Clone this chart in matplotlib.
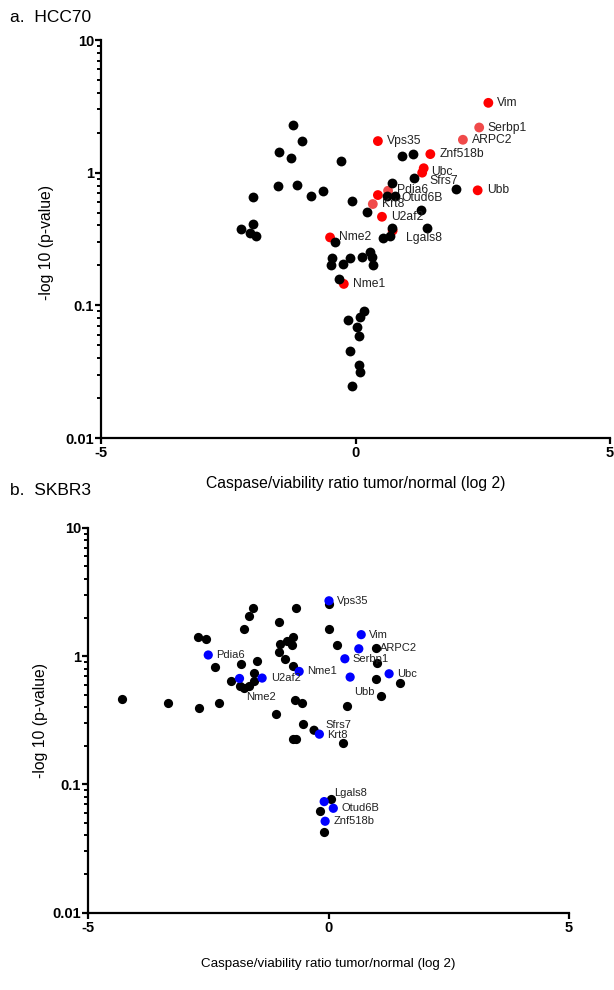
import matplotlib
matplotlib.use("Agg")
import matplotlib.pyplot as plt
from matplotlib.ticker import FixedLocator, FixedFormatter, LogLocator, NullFormatter

plt.rcParams['font.family'] = ['Liberation Sans', 'DejaVu Sans']
plt.rcParams['axes.unicode_minus'] = False

# ---- a. HCC70 : unlabelled genes
hcc_x = [-1.23, -1.06, -1.50, -1.27, -1.53, -1.15, -0.88, -2.01, -2.01, -2.24,
         -2.07, -1.96, -0.63, -0.29, 0.91, 1.12, 1.14, 0.71, 0.61, 0.78,
         1.97, -0.06, 0.22, 1.28, 1.40, 0.71, 0.55, 0.68, -0.41, -0.46,
         -0.49, -0.24, -0.10, 0.13, 0.29, 0.32, 0.34, -0.32, 0.17, 0.08,
         -0.15, 0.03, 0.06, -0.11, 0.06, 0.08, -0.06]
hcc_p = [2.27, 1.74, 1.43, 1.30, 0.80, 0.81, 0.67, 0.65, 0.41, 0.376,
         0.351, 0.335, 0.727, 1.22, 1.33, 1.38, 0.906, 0.839, 0.667, 0.667,
         0.752, 0.611, 0.505, 0.520, 0.385, 0.380, 0.321, 0.333, 0.301, 0.229,
         0.201, 0.204, 0.228, 0.230, 0.251, 0.231, 0.203, 0.158, 0.091, 0.081,
         0.078, 0.069, 0.059, 0.045, 0.0355, 0.0316, 0.0247]

# ---- a. HCC70 : labelled genes
hcc_genes = ['Vim', 'Serbp1', 'ARPC2', 'Vps35', 'Znf518b', 'Ubc', 'Sfrs7', 'Ubb',
             'Pdia6', 'Otud6B', 'Krt8', 'U2af2', 'Lgals8', 'Nme2', 'Nme1']
hcc_gx = [2.61, 2.43, 2.11, 0.44, 1.47, 1.34, 1.31, 2.40,
          0.64, 0.44, 0.34, 0.52, 0.73, -0.50, -0.23]
hcc_gp = [3.36, 2.19, 1.77, 1.73, 1.38, 1.08, 1.00, 0.736,
          0.731, 0.678, 0.580, 0.465, 0.366, 0.325, 0.145]
hcc_light = ['Serbp1', 'ARPC2', 'Pdia6', 'Krt8']

# ---- b. SKBR3 : unlabelled genes
sk_x = [-4.29, -3.33, -2.69, -2.28, -2.72, -2.55, -2.37, -1.75, -1.65, -1.57,
        -1.82, -1.49, -1.55, -2.03, -1.85, -1.75, -1.65, -1.54, -1.10, -1.02,
        -0.67, -0.73, -0.86, -1.00, -1.03, -0.90, -0.76, -0.74, -0.69, -0.56,
        -0.54, -0.74, -0.68, 0.31, 0.00, 0.01, 0.18, 0.39, 0.99, 1.00,
        0.98, 1.49, 1.09, 0.05, -0.18, -0.09]
sk_p = [0.463, 0.428, 0.394, 0.433, 1.42, 1.35, 0.826, 1.63, 2.05, 2.37,
        0.875, 0.914, 0.732, 0.642, 0.587, 0.563, 0.587, 0.634, 0.355, 1.86,
        2.39, 1.42, 1.32, 1.25, 1.07, 0.941, 1.23, 0.830, 0.457, 0.429,
        0.295, 0.227, 0.226, 0.210, 2.54, 1.62, 1.23, 0.405, 1.15, 0.887,
        0.665, 0.612, 0.485, 0.0769, 0.0624, 0.0426]

# ---- b. SKBR3 : labelled genes
sk_genes = ['Vps35', 'Vim', 'ARPC2', 'Serbp1', 'Ubc', 'Ubb', 'Pdia6', 'Nme1',
            'U2af2', 'Nme2', 'Sfrs7', 'Krt8', 'Lgals8', 'Otud6B', 'Znf518b']
sk_gx = [0.01, 0.68, 0.63, 0.34, 1.26, 0.45, -2.50, -0.61,
         -1.38, -1.85, -0.30, -0.19, -0.09, 0.10, -0.07]
sk_gp = [2.70, 1.47, 1.14, 0.953, 0.728, 0.686, 1.02, 0.759,
         0.674, 0.669, 0.264, 0.246, 0.0733, 0.0650, 0.0515]
sk_unmarked = ['Sfrs7']

x_ticks = [-5, 0, 5]
y_ticks = [0.01, 0.1, 1, 10]
y_ticklabels = ['0.01', '0.1', '1', '10']

# label offsets in pixels (dx right, dy down)
hcc_off = {'Ubc': (7, 4), 'Sfrs7': (7, 8), 'Pdia6': (9, -1), 'Otud6B': (23, 3),
           'Lgals8': (13, 7.5), 'Serbp1': (8, 0)}
sk_off = {'ARPC2': (21, -1), 'Ubb': (4, 15), 'Nme2': (7, 19), 'Sfrs7': (11, -5),
          'Krt8': (8, 1), 'Lgals8': (10, -9), 'U2af2': (9, 0)}


def style_axes(ax, tick_size=10.5):
    ax.set_yscale('log')
    ax.set_xlim(-5, 5)
    ax.set_ylim(0.01, 10)
    for s in ['top', 'right']:
        ax.spines[s].set_visible(False)
    for s in ['left', 'bottom']:
        ax.spines[s].set_linewidth(1.6)
    ax.xaxis.set_major_locator(FixedLocator(x_ticks))
    ax.yaxis.set_major_locator(FixedLocator(y_ticks))
    ax.yaxis.set_major_formatter(FixedFormatter(y_ticklabels))
    ax.yaxis.set_minor_locator(LogLocator(base=10, subs=range(2, 10)))
    ax.yaxis.set_minor_formatter(NullFormatter())
    ax.tick_params(axis='both', which='major', length=4, width=1.6,
                   labelsize=tick_size, direction='out')
    ax.tick_params(axis='x', pad=2)
    ax.tick_params(axis='y', pad=1)
    ax.tick_params(axis='y', which='minor', length=2.6, width=1.4)
    for lab in ax.get_xticklabels() + ax.get_yticklabels():
        lab.set_fontweight('bold')


fig = plt.figure(figsize=(6.14, 9.9), dpi=100)

# ---------------- a. HCC70
ax1 = fig.add_axes([101 / 614, 1 - 438 / 990, 509 / 614, 398 / 990])
cols = ['#f04a4a' if g in hcc_light else '#ff0000' for g in hcc_genes]
ax1.scatter(hcc_gx, hcc_gp, s=50, c=cols, linewidths=0, zorder=2, clip_on=False)
ax1.scatter(hcc_x, hcc_p, s=50, c='black', linewidths=0, zorder=3, clip_on=False)
for g, x, y in zip(hcc_genes, hcc_gx, hcc_gp):
    dx, dy = hcc_off.get(g, (9, 0))
    ax1.annotate(g, (x, y), xytext=(dx, -dy), textcoords='offset pixels',
                 ha='left', va='center', fontsize=8.7, color='#222222', zorder=4)
style_axes(ax1)
ax1.set_xlabel('Caspase/viability ratio tumor/normal (log 2)', fontsize=11.3)
ax1.set_ylabel('-log 10 (p-value)', fontsize=11.3)
ax1.xaxis.set_label_coords(0.5, -0.095)
ax1.yaxis.set_label_coords(-0.092, 0.49)
fig.text(10 / 614, 1 - 17 / 990, 'a.  HCC70', fontsize=12.5, va='center', ha='left')

# ---------------- b. SKBR3
ax2 = fig.add_axes([88 / 614, 1 - 912.5 / 990, 481 / 614, 384.6 / 990])
cols = ['black' if g in sk_unmarked else '#0000ff' for g in sk_genes]
ax2.scatter(sk_x, sk_p, s=44, c='black', linewidths=0, zorder=2, clip_on=False)
ax2.scatter(sk_gx, sk_gp, s=44, c=cols, linewidths=0, zorder=3, clip_on=False)
for g, x, y in zip(sk_genes, sk_gx, sk_gp):
    dx, dy = sk_off.get(g, (8, 0))
    ax2.annotate(g, (x, y), xytext=(dx, -dy), textcoords='offset pixels',
                 ha='left', va='center', fontsize=8, color='#222222', zorder=4)
style_axes(ax2)
ax2.set_xlabel('Caspase/viability ratio tumor/normal (log 2)', fontsize=9.6)
ax2.set_ylabel('-log 10 (p-value)', fontsize=11.3)
ax2.xaxis.set_label_coords(0.5, -0.118)
ax2.yaxis.set_label_coords(-0.083, 0.498)
fig.text(10 / 614, 1 - 490 / 990, 'b.  SKBR3', fontsize=12.5, va='center', ha='left')

fig.savefig('out.png', dpi=100)
